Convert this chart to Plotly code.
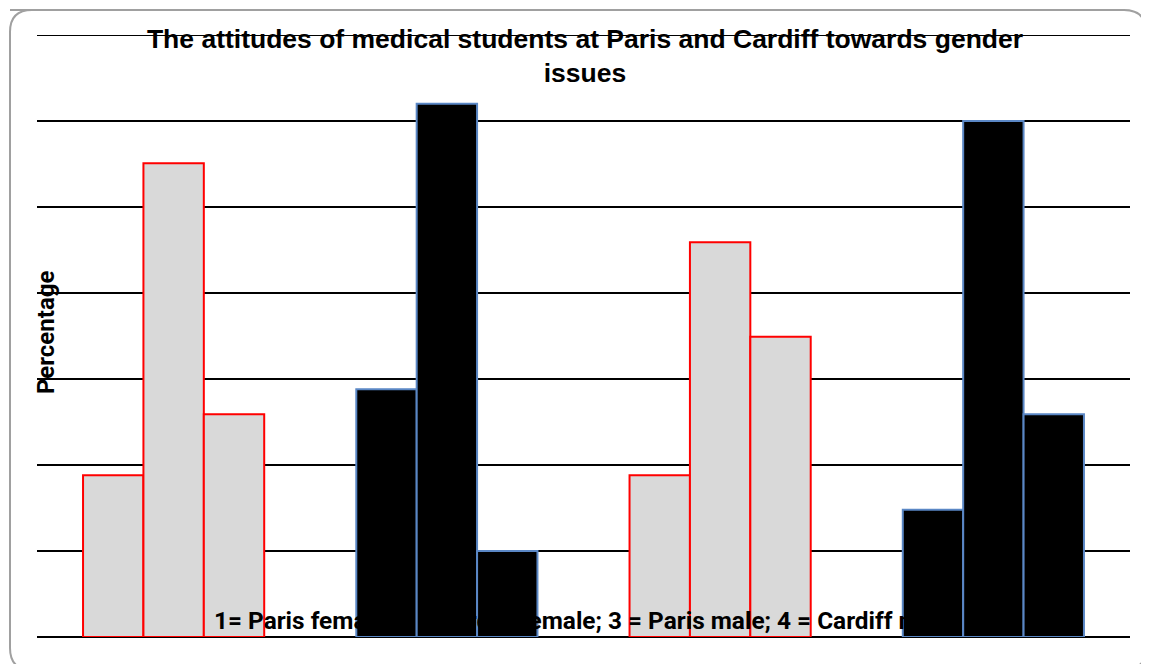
import plotly.graph_objects as go

groups = ["1", "2", "3", "4"]
series_a = [18.8, 28.8, 18.8, 14.8]
series_b = [55.1, 62.0, 45.9, 60.0]
series_c = [25.9, 10.0, 34.9, 25.9]

fills = ["#d9d9d9", "#000000", "#d9d9d9", "#000000"]
edges = ["#ff0000", "#5a87c5", "#ff0000", "#5a87c5"]

title = ("<b>The attitudes of medical students at Paris and Cardiff towards gender"
         "<br>issues</b>")
key_text = "<b>1= Paris female; 2 = Cardiff female; 3 = Paris male; 4 = Cardiff male</b>"

# page body has an 8px margin, so the figure is offset by that much
OFF = 8
W, H = 1149, 664
L, R, T, B = 37 - OFF, W + OFF - 1130, 35 - OFF, H + OFF - 637
PW, PH = W - L - R, H - T - B
YMAX = 70


def px(x):
    return (x - OFF - L) / PW


def py(y):
    return (H - B - (y - OFF)) / PH


fig = go.Figure()

for vals in (series_a, series_b, series_c):
    fig.add_trace(go.Bar(
        x=groups, y=vals,
        marker=dict(color=fills, line=dict(color=edges, width=2)),
        showlegend=False,
    ))

fig.update_layout(
    width=W, height=H,
    plot_bgcolor="white", paper_bgcolor="white",
    margin=dict(l=L, r=R, t=T, b=B, pad=0),
    barmode="group", bargap=0.337, bargroupgap=0,
    title=dict(text=title, x=(585 - OFF) / W, xanchor="center",
               y=1 - (48 - OFF) / H, yanchor="top",
               font=dict(family="Liberation Sans, Arial", size=26.5, color="black")),
    xaxis=dict(showgrid=False, zeroline=False, showticklabels=False,
               showline=False, ticks=""),
    yaxis=dict(range=[0, YMAX], dtick=10, showgrid=True, gridcolor="black", gridwidth=2,
               zeroline=True, zerolinecolor="black", zerolinewidth=2,
               showticklabels=False, ticks="", showline=False),
    annotations=[
        dict(text="<b>Percentage</b>", textangle=-90, xref="paper", yref="paper",
             x=px(46), y=py(333), xanchor="center", yanchor="middle",
             showarrow=False,
             font=dict(family="Roboto, Noto Sans", size=24, color="black")),
        # key text lies on top of the bars (hidden on the black ones)
        dict(text=key_text, xref="paper", yref="paper",
             x=px(583), y=py(620), xanchor="center", yanchor="middle",
             showarrow=False,
             font=dict(family="Roboto, Noto Sans", size=24.4, color="black")),
    ],
    shapes=[
        # top gridline at the edge of the range
        dict(type="line", xref="paper", yref="y", x0=0, x1=1, y0=YMAX, y1=YMAX,
             line=dict(color="black", width=2), layer="below"),
        # rounded frame around the chart
        dict(
            type="path", xref="paper", yref="paper",
            path=("M {x0},{y1} L {x1b},{y1} Q {x1},{y1} {x1},{y1b} L {x1},{y0b} "
                  "Q {x1},{y0} {x1b},{y0} L {x0b},{y0} Q {x0},{y0} {x0},{y0b} "
                  "L {x0},{y1b} Q {x0},{y1} {x0b},{y1} Z").format(
                x0=px(10), x1=px(1146), x0b=px(32), x1b=px(1124),
                y0=py(670), y1=py(10), y0b=py(648), y1b=py(32)),
            line=dict(color="#a0a0a0", width=2), layer="above",
        ),
    ],
)

fig.write_html("out.html")
